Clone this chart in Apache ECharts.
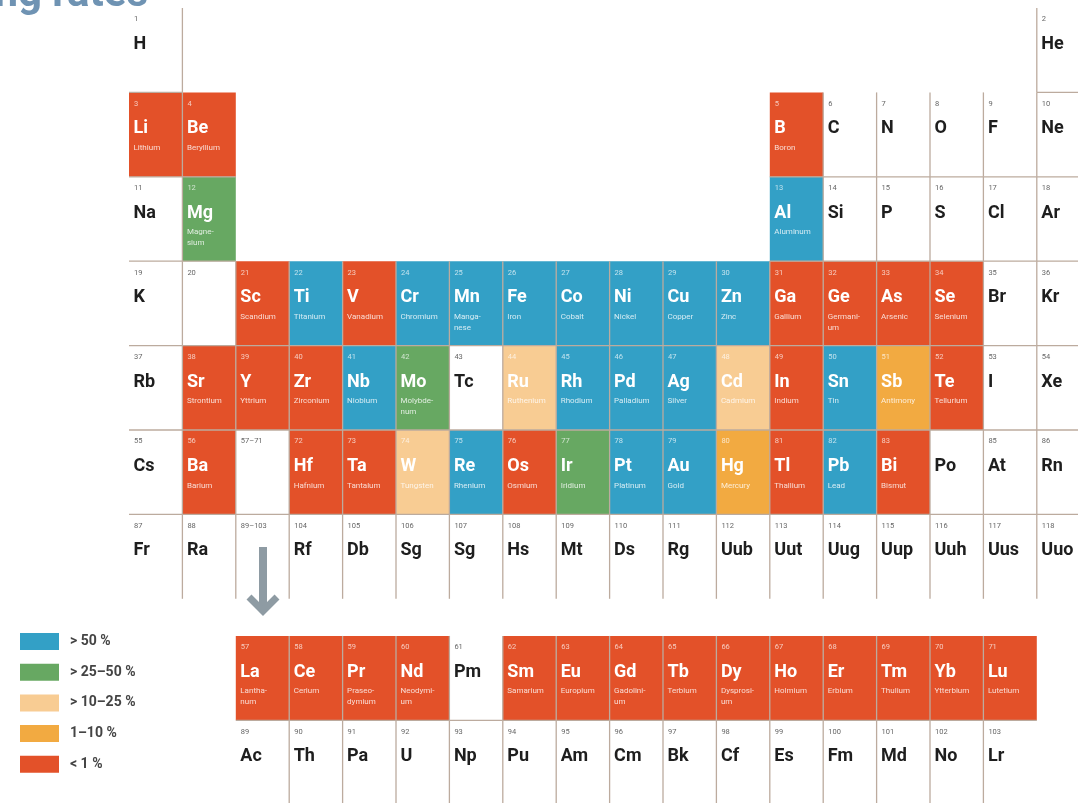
<!DOCTYPE html>
<html><head><meta charset="utf-8">
<script src="https://cdn.jsdelivr.net/npm/echarts@6/dist/echarts.min.js"></script>
<style>html,body{margin:0;padding:0;background:#fff}#c{width:1078px;height:803px}</style>
</head><body><div id="c"></div>
<script>
// ---------- DATA ----------
const elementSymbols = ["H","He","Li","Be","B","C","N","O","F","Ne","Na","Mg","Al","Si","P","S","Cl","Ar",
"K","Ca","Sc","Ti","V","Cr","Mn","Fe","Co","Ni","Cu","Zn","Ga","Ge","As","Se","Br","Kr",
"Rb","Sr","Y","Zr","Nb","Mo","Tc","Ru","Rh","Pd","Ag","Cd","In","Sn","Sb","Te","I","Xe",
"Cs","Ba","La","Ce","Pr","Nd","Pm","Sm","Eu","Gd","Tb","Dy","Ho","Er","Tm","Yb","Lu",
"Hf","Ta","W","Re","Os","Ir","Pt","Au","Hg","Tl","Pb","Bi","Po","At","Rn",
"Fr","Ra","Ac","Th","Pa","U","Np","Pu","Am","Cm","Bk","Cf","Es","Fm","Md","No","Lr",
"Rf","Db","Sg","Sg","Hs","Mt","Ds","Rg","Uub","Uut","Uug","Uup","Uuh","Uus","Uuo"];
const blankSymbolNumbers = [20];      // Ca printed without symbol
const blankNumberLabels = [84];       // Po printed without number
const placeholderLabels = ["57–71", "89–103"];
const elementNames = {
  Li:"Lithium", Be:"Beryllium", B:"Boron", Mg:"Magne-\nsium", Al:"Aluminum",
  Sc:"Scandium", Ti:"Titanium", V:"Vanadium", Cr:"Chromium", Mn:"Manga-\nnese", Fe:"Iron",
  Co:"Cobalt", Ni:"Nickel", Cu:"Copper", Zn:"Zinc", Ga:"Gallium", Ge:"Germani-\num",
  As:"Arsenic", Se:"Selenium", Sr:"Strontium", Y:"Yttrium", Zr:"Zirconium", Nb:"Niobium",
  Mo:"Molybde-\nnum", Ru:"Ruthenium", Rh:"Rhodium", Pd:"Palladium", Ag:"Silver", Cd:"Cadmium",
  In:"Indium", Sn:"Tin", Sb:"Antimony", Te:"Tellurium", Ba:"Barium", Hf:"Hafnium",
  Ta:"Tantalum", W:"Tungsten", Re:"Rhenium", Os:"Osmium", Ir:"Iridium", Pt:"Platinum",
  Au:"Gold", Hg:"Mercury", Tl:"Thallium", Pb:"Lead", Bi:"Bismut",
  La:"Lantha-\nnum", Ce:"Cerium", Pr:"Praseo-\ndymium", Nd:"Neodymi-\num", Sm:"Samarium",
  Eu:"Europium", Gd:"Gadolini-\num", Tb:"Terbium", Dy:"Dysprosi-\num", Ho:"Holmium",
  Er:"Erbium", Tm:"Thulium", Yb:"Ytterbium", Lu:"Lutetium"
};
const rateLabels = ["> 50 %", "> 25–50 %", "> 10–25 %", "1–10 %", "< 1 %"];
const over50 = ["Al","Ti","Cr","Mn","Fe","Co","Ni","Cu","Zn","Nb","Rh","Pd","Ag","Sn","Re","Pt","Au","Pb"];
const over25to50 = ["Mg","Mo","Ir"];
const over10to25 = ["Ru","Cd","W"];
const from1to10 = ["Sb","Hg"];
const under1 = ["Li","Be","B","Sc","V","Ga","Ge","As","Se","Sr","Y","Zr","In","Te","Ba","Hf","Ta","Os","Tl","Bi",
  "La","Ce","Pr","Nd","Sm","Eu","Gd","Tb","Dy","Ho","Er","Tm","Yb","Lu"];
const rateGroups = [over50, over25to50, over10to25, from1to10, under1];

// ---------- STYLE ----------
const rateColors = ['#33a0c6', '#67a862', '#f8cc93', '#f2aa41', '#e35129'];
const lineColor = '#bcab9e';
const FONT = 'Roboto, "Noto Sans", sans-serif';

// period / group from atomic number
function place(z) {
  if (z === 1) return [1, 1];
  if (z === 2) return [1, 18];
  if (z <= 4) return [2, z - 2];
  if (z <= 10) return [2, z + 8];
  if (z <= 12) return [3, z - 10];
  if (z <= 18) return [3, z];
  if (z <= 36) return [4, z - 18];
  if (z <= 54) return [5, z - 36];
  if (z <= 56) return [6, z - 54];
  if (z <= 71) return [8, z - 54];
  if (z <= 86) return [6, z - 68];
  if (z <= 88) return [7, z - 86];
  if (z <= 103) return [9, z - 86];
  return [7, z - 100];
}
const rowOf = p => p <= 7 ? p - 1 : (p === 8 ? 7.44 : 8.44);

const cells = [];
elementSymbols.forEach((sym, i) => {
  const z = i + 1;
  const [p, g] = place(z);
  let cls = -1;
  rateGroups.forEach((arr, k) => { if (arr.includes(sym) && z < 104) cls = k; });
  cells.push({
    p, g, cls,
    sym: blankSymbolNumbers.includes(z) ? '' : sym,
    num: blankNumberLabels.includes(z) ? '' : String(z),
    name: cls >= 0 ? (elementNames[sym] || '') : ''
  });
});
placeholderLabels.forEach((lab, i) => cells.push({ p: 6 + i, g: 3, cls: -1, sym: '', num: lab, name: '' }));

// grid line segments between neighbouring cells
const occ = {};
cells.forEach(c => { occ[c.p + '_' + c.g] = true; });
const segments = [];
cells.forEach(c => {
  const x0 = c.g - 1, x1 = c.g, y0 = rowOf(c.p), y1 = y0 + 1;
  const left = occ[c.p + '_' + (c.g - 1)] || (c.p === 1 && c.g > 1);
  const right = c.p === 1 && c.g === 1;
  const abovePeriod = c.p === 9 ? 8 : (c.p >= 2 && c.p <= 7 ? c.p - 1 : null);
  const top = abovePeriod && occ[abovePeriod + '_' + c.g];
  if (left) segments.push([x0, y0, x0, y1]);
  if (right) segments.push([x1, y0, x1, y1]);
  if (top) segments.push([x0, y0, x1, y0]);
});

function cellRenderer(list) {
  return function (params, api) {
    const c = list[params.dataIndex];
    const pt = api.coord([api.value(0) - 1, api.value(1)]);
    const sz = api.size([1, 1]);
    const colored = c.cls >= 0;
    const fill = colored ? api.visual('color') : '#ffffff';
    const x = pt[0], y = pt[1];
    const children = [
      { type: 'rect', shape: { x: x, y: y, width: sz[0], height: sz[1] }, style: { fill: fill } },
      { type: 'text', x: x + 5, y: y + 11.5, style: { text: c.num, fill: colored ? 'rgba(255,255,255,0.7)' : '#666',
        font: '7.5px ' + FONT, align: 'left', verticalAlign: 'middle', textAlign: 'left', textVerticalAlign: 'middle' } },
      { type: 'text', x: x + 4.5, y: y + 36.5, style: { text: c.sym, fill: colored ? '#ffffff' : '#1e1e1e',
        font: 'bold 18px ' + FONT, align: 'left', verticalAlign: 'middle', textAlign: 'left', textVerticalAlign: 'middle' } },
      { type: 'text', x: x + 4.5, y: y + 50, style: { text: c.name, fill: 'rgba(255,255,255,0.8)', lineHeight: 11,
        font: '8px ' + FONT, align: 'left', verticalAlign: 'top', textAlign: 'left', textVerticalAlign: 'top' } }
    ];
    return { type: 'group', children: children };
  };
}

const series = [];
const whiteCells = cells.filter(c => c.cls === -1);
series.push({
  name: 'no data', type: 'custom', coordinateSystem: 'cartesian2d', silent: true, z: 2,
  renderItem: cellRenderer(whiteCells), data: whiteCells.map(c => [c.g, rowOf(c.p)])
});
rateLabels.forEach((lab, k) => {
  const list = cells.filter(c => c.cls === k);
  series.push({
    name: lab, type: 'custom', coordinateSystem: 'cartesian2d', silent: true, z: 2,
    itemStyle: { color: rateColors[k] },
    renderItem: cellRenderer(list), data: list.map(c => [c.g, rowOf(c.p)])
  });
});
series.push({
  name: 'grid', type: 'custom', coordinateSystem: 'cartesian2d', silent: true, z: 3,
  renderItem: function (params, api) {
    const a = api.coord([api.value(0), api.value(1)]);
    const b = api.coord([api.value(2), api.value(3)]);
    return { type: 'line', shape: { x1: a[0], y1: a[1], x2: b[0], y2: b[1] },
      style: { stroke: lineColor, lineWidth: 1.3 } };
  },
  data: segments
});

const chart = echarts.init(document.getElementById('c'));
chart.setOption({
  animation: false,
  color: rateColors,
  grid: { left: 129, top: 8, width: 18 * 53.4, height: 9.5 * 84.4, outerBoundsMode: 'none', containLabel: false },
  xAxis: { type: 'value', min: 0, max: 18, show: false },
  yAxis: { type: 'value', min: 0, max: 9.5, inverse: true, show: false },
  legend: {
    data: rateLabels, orient: 'vertical', left: 20, top: 633, padding: 0, icon: 'rect',
    itemWidth: 39, itemHeight: 17, itemGap: 13.7, selectedMode: false,
    textStyle: { fontFamily: FONT, fontWeight: 'bold', fontSize: 14, color: '#444', padding: [0, 0, 0, 6] }
  },
  graphic: [
    { type: 'text', x: 148, y: 16, z: 10, style: { text: 'ng rates', fill: '#6f93b3',
      font: 'bold 42px ' + FONT, align: 'right', verticalAlign: 'bottom', textAlign: 'right', textVerticalAlign: 'bottom' } },
    { type: 'polyline', z: 10, shape: { points: [[263, 547], [263, 611]] }, style: { stroke: '#8e9ba3', lineWidth: 8, fill: null } },
    { type: 'polyline', z: 10, shape: { points: [[249, 597], [263, 611], [277, 597]] },
      style: { stroke: '#8e9ba3', lineWidth: 7, fill: null, lineJoin: 'miter' } }
  ],
  series: series
});
</script>
</body></html>
